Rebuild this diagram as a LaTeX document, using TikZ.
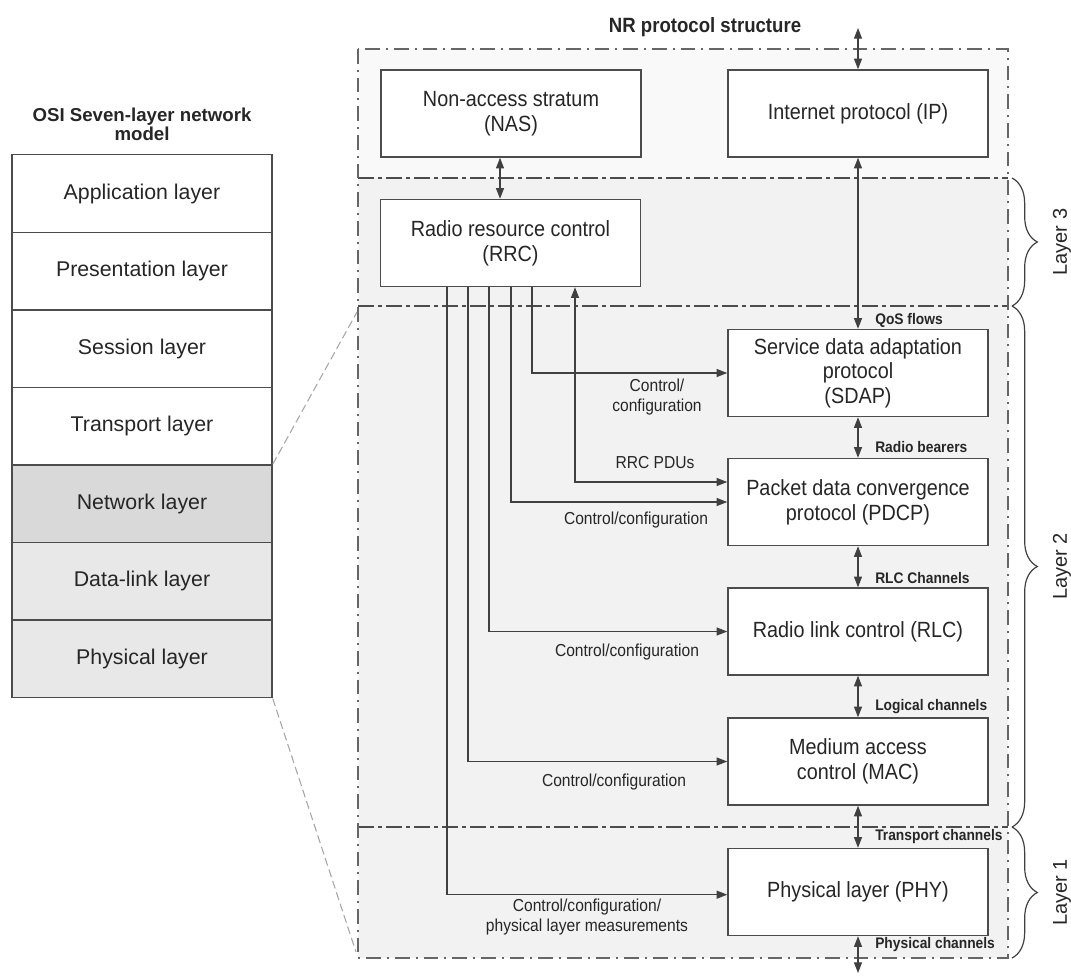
\documentclass[tikz,border=0pt]{standalone}
\usepackage{fontspec}
\setmainfont{Liberation Sans}
\newfontfamily\narrowsf{Liberation Sans}[FakeStretch=0.9]
\usetikzlibrary{arrows.meta,decorations.pathreplacing,calc}

\begin{document}
\begin{tikzpicture}[x=0.75pt,y=-0.75pt,
  osibox/.style={draw=black!70, line width=1.1pt, minimum width=195pt,
    minimum height=58.2pt, anchor=north, inner sep=0pt,
    font=\fontsize{16}{19}\selectfont, text=black!85},
  nrbox/.style={draw=black!70, fill=white, line width=1.1pt,
    minimum width=195pt, minimum height=65.25pt, align=center, inner sep=2pt,
    font=\narrowsf\fontsize{16.5}{18.5}\selectfont, text=black!85},
  chan/.style={font=\narrowsf\bfseries\fontsize{11.5}{13}\selectfont,
    anchor=west, text=black!85, inner sep=0pt},
  ctl/.style={font=\narrowsf\fontsize{13}{14.5}\selectfont, align=center,
    text=black!85, inner sep=0pt},
  conn/.style={draw=black!75, line width=0.9pt,
    -{Triangle[length=8pt,width=6pt]}},
  dconn/.style={draw=black!75, line width=0.9pt,
    {Triangle[length=8pt,width=6pt]}-{Triangle[length=8pt,width=6pt]}},
  outerline/.style={draw=black!60, line width=1.1pt,
    dash pattern=on 11pt off 4.5pt on 1.5pt off 4.5pt},
  layerline/.style={draw=black!70, line width=1.2pt,
    dash pattern=on 12pt off 3pt on 3pt off 3pt},
  zoomline/.style={draw=black!35, line width=0.8pt, dash pattern=on 6pt off 3pt},
  bracestyle/.style={draw=black!75, line width=0.9pt,
    decorate, decoration={brace, amplitude=19pt}},
  layerlbl/.style={font=\fontsize{15}{18}\selectfont, text=black!85, rotate=90}
]
\useasboundingbox (0,0) rectangle (1071,976);

% ---------- NR protocol structure: background regions ----------
\fill[black!2.5] (358,49) rectangle (1008,178);
\fill[black!5] (358,178) rectangle (1008,958);
\draw[layerline] (358,178) -- (1008,178);
\draw[layerline] (358,306) -- (1008,306);
\draw[layerline] (358,827) -- (1008,827);
\draw[outerline] (358,49) rectangle (1008,958);

% ---------- OSI seven-layer model ----------
\node[font=\bfseries\fontsize{14}{14.5}\selectfont, align=center, text=black!85]
  (osititle) at (142,124) {OSI Seven-layer network\\model};
\node[osibox] (app)   at (142,154.0) {Application layer};
\node[osibox] (pres)  at (142,231.6) {Presentation layer};
\node[osibox] (sess)  at (142,309.1) {Session layer};
\node[osibox] (trans) at (142,386.7) {Transport layer};
\node[osibox, fill=black!15] (net)  at (142,464.3) {Network layer};
\node[osibox, fill=black!9]  (dl)   at (142,541.9) {Data-link layer};
\node[osibox, fill=black!9]  (phys) at (142,619.4) {Physical layer};

\coordinate (zt) at (357,312);
\coordinate (zb) at (356,952);
\draw[zoomline] (net.north east) -- (zt);
\draw[zoomline] (phys.south east) -- (zb);

% ---------- title ----------
\node[font=\narrowsf\bfseries\fontsize{15.5}{18}\selectfont, text=black!85]
  (title) at (705,27) {NR protocol structure};

% ---------- protocol entities ----------
\node[nrbox] (nas)  at (511,113.5) {Non-access stratum\\(NAS)};
\node[nrbox] (ip)   at (858,113.5) {Internet protocol (IP)};
\node[nrbox] (rrc)  at (510.5,243) {Radio resource control\\(RRC)};
\node[nrbox] (sdap) at (858,373) {Service data adaptation\\protocol\\(SDAP)};
\node[nrbox] (pdcp) at (858,502) {Packet data convergence\\protocol (PDCP)};
\node[nrbox] (rlc)  at (858,631.5) {Radio link control (RLC)};
\node[nrbox] (mac)  at (858,761.5) {Medium access\\control (MAC)};
\node[nrbox] (phy)  at (858,892) {Physical layer (PHY)};

% ---------- vertical data path ----------
\coordinate (topend) at (858,28);
\coordinate (botend) at (858,973);
\coordinate (nasx) at (500,0);
\draw[dconn] (topend) -- (ip.north);
\draw[dconn] (ip.south) -- (sdap.north);
\draw[dconn] (sdap.south) -- (pdcp.north);
\draw[dconn] (pdcp.south) -- (rlc.north);
\draw[dconn] (rlc.south) -- (mac.north);
\draw[dconn] (mac.south) -- (phy.north);
\draw[dconn] (phy.south) -- (botend);
\draw[dconn] (nas.south -| nasx) -- (rrc.north -| nasx);

\node[chan] (qos)  at (875,320) {QoS flows};
\node[chan] (rb)   at (875,447) {Radio bearers};
\node[chan] (rlcc) at (875,578) {RLC Channels};
\node[chan] (logc) at (875,707) {Logical channels};
\node[chan] (trc)  at (875,837) {Transport channels};
\node[chan] (phc)  at (875,945) {Physical channels};

% ---------- RRC control connections ----------
\coordinate (k1) at (532,0);
\coordinate (k2) at (511,0);
\coordinate (k3) at (489,0);
\coordinate (k4) at (468,0);
\coordinate (k5) at (447,0);
\coordinate (k6) at (575,0);
\draw[conn] (rrc.south -| k1) |- (sdap.west);
\draw[conn] (rrc.south -| k2) |- (pdcp.west);
\draw[conn] (rrc.south -| k3) |- (rlc.west);
\draw[conn] (rrc.south -| k4) |- (mac.west);
\draw[conn] (rrc.south -| k5) |- ([yshift=-2pt]phy.west);
\draw[dconn] (rrc.south -| k6) |- ([yshift=15pt]pdcp.west);

\node[ctl] (c1)  at (657,397) {Control/\\configuration};
\node[ctl] (pdu) at (655,463) {RRC PDUs};
\node[ctl] (c2)  at (636,520) {Control/configuration};
\node[ctl] (c3)  at (627,652) {Control/configuration};
\node[ctl] (c4)  at (614,782) {Control/configuration};
\node[ctl] (c5)  at (587,917) {Control/configuration/\\physical layer measurements};

% ---------- layer braces ----------
\draw[bracestyle] (1012,178) -- (1012,306);
\draw[bracestyle] (1012,306) -- (1012,827);
\draw[bracestyle] (1012,827) -- (1012,958);
\node[layerlbl] (l3) at (1062,242) {Layer 3};
\node[layerlbl] (l2) at (1062,566.5) {Layer 2};
\node[layerlbl] (l1) at (1062,892.5) {Layer 1};
\end{tikzpicture}
\end{document}
